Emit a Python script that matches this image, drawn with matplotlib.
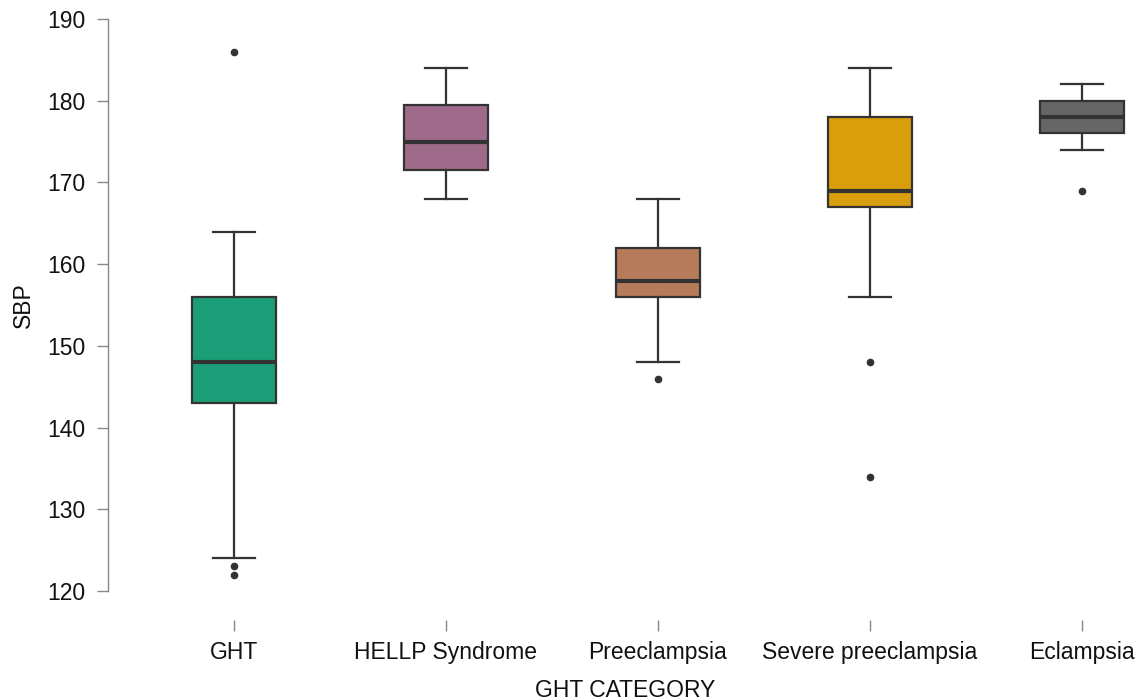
import matplotlib
matplotlib.use("Agg")
import matplotlib.pyplot as plt

plt.rcParams['font.family'] = ['Liberation Sans', 'DejaVu Sans']

# Box plot summaries
categories = ["GHT", "HELLP Syndrome", "Preeclampsia", "Severe preeclampsia", "Eclampsia"]
whisLow = [124, 168, 148, 156, 174]
q1 = [143, 171.5, 156, 167, 176]
median = [148, 175, 158, 169, 178]
q3 = [156, 179.5, 162, 178, 180]
whisHigh = [164, 184, 168, 184, 182]
outliers = [[186, 123, 122], [], [146], [148, 134], [169]]
colors = ["#1b9e77", "#9e6b8a", "#b67b5a", "#d99e0b", "#666666"]

stats = []
for i in range(len(categories)):
    stats.append({
        "label": categories[i],
        "whislo": whisLow[i],
        "q1": q1[i],
        "med": median[i],
        "q3": q3[i],
        "whishi": whisHigh[i],
        "fliers": outliers[i],
    })

fig = plt.figure(figsize=(11.42, 7.0), dpi=100)
ax = fig.add_axes([108 / 1142, 1 - 620 / 700, 1 - 108 / 1142, (620 - 15) / 700])

edge = "#333333"
bp = ax.bxp(stats, positions=range(len(categories)), widths=0.4, patch_artist=True,
            boxprops=dict(edgecolor=edge, linewidth=1.6),
            medianprops=dict(color=edge, linewidth=3),
            whiskerprops=dict(color=edge, linewidth=1.6),
            capprops=dict(color=edge, linewidth=1.6),
            capwidths=0.2,
            flierprops=dict(marker='o', markerfacecolor=edge, markeredgecolor=edge,
                            markersize=4.5))
for patch, c in zip(bp["boxes"], colors):
    patch.set_facecolor(c)

ax.set_xlim(-0.594, 4.283)
ax.set_ylim(116.45, 190.5)
ax.set_yticks(range(120, 191, 10))
ax.set_xticks(range(len(categories)))
ax.set_xticklabels(categories)

for s in ["top", "right", "bottom"]:
    ax.spines[s].set_visible(False)
ax.spines["left"].set_bounds(120, 190)
ax.spines["left"].set_color("#888888")
ax.spines["left"].set_linewidth(1)

ax.tick_params(axis="both", colors="#888888", labelcolor="#111111", labelsize=16.5,
               length=8, width=1, pad=8)
ax.tick_params(axis="x", pad=7)

ax.set_xlabel("GHT CATEGORY", fontsize=16.5, color="#111111")
ax.set_ylabel("SBP", fontsize=16.5, color="#111111")
ax.xaxis.set_label_coords(0.5, -0.097)
ax.yaxis.set_label_coords(-0.071, (155 - 116.45) / (190.5 - 116.45))

fig.savefig("out.png", dpi=100)
